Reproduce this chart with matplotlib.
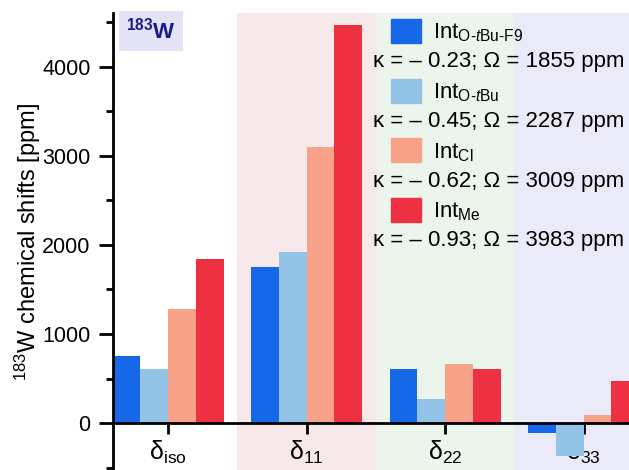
import matplotlib
matplotlib.use('Agg')
import matplotlib.pyplot as plt
import numpy as np
from matplotlib.patches import Rectangle
from matplotlib.ticker import MultipleLocator

plt.rcParams['font.family'] = ['Liberation Sans', 'DejaVu Sans']
plt.rcParams['mathtext.fontset'] = 'custom'
plt.rcParams['mathtext.rm'] = 'Liberation Sans'
plt.rcParams['mathtext.it'] = 'Liberation Sans:italic'
plt.rcParams['mathtext.bf'] = 'Liberation Sans:bold'

# dane
kategorie = ['\u03b4$_{\\mathrm{iso}}$', '\u03b4$_{\\mathrm{11}}$', '\u03b4$_{\\mathrm{22}}$', '\u03b4$_{\\mathrm{33}}$']
int_of9 = [755, 1755, 613, -108]
int_otbu = [610, 1925, 269, -370]
int_cl = [1286, 3098, 665, 90]
int_me = [1846, 4462, 613, 471]
serie = [int_of9, int_otbu, int_cl, int_me]
nazwy = [r'Int$_{\mathrm{O}\text{-}t\mathrm{Bu}\text{-}\mathrm{F9}}$', r'Int$_{\mathrm{O}\text{-}t\mathrm{Bu}}$',
         r'Int$_{\mathrm{Cl}}$', r'Int$_{\mathrm{Me}}$']
kappa = ['\u03ba = \u2013 0.23; \u03a9 = 1855 ppm', '\u03ba = \u2013 0.45; \u03a9 = 2287 ppm',
         '\u03ba = \u2013 0.62; \u03a9 = 3009 ppm', '\u03ba = \u2013 0.93; \u03a9 = 3983 ppm']
kolory = ['#1767e9', '#93c3e6', '#f9a28a', '#ee3142']
tla = ['#f7e9e9', '#ecf5ec', '#eaeaf8']

W, H = 629, 470
fig = plt.figure(figsize=(W / 100, H / 100), dpi=100)
ax = fig.add_axes([112.7 / W, 1 - (13 + 463.8) / H, 554 / W, 463.8 / H])

x = np.arange(1, len(kategorie) + 1)
szer = 0.2
ax.axvspan(1.5, 2.5, color=tla[0], zorder=0, lw=0)
ax.axvspan(2.5, 3.5, color=tla[1], zorder=0, lw=0)
ax.axvspan(3.5, 4.6, color=tla[2], zorder=0, lw=0)
for i, s in enumerate(serie):
    ax.bar(x + (i - 1.5) * szer, s, szer, color=kolory[i], zorder=2)

ax.set_xlim(0.6, 4.6)
ax.set_ylim(-600, 4600)
ax.spines['top'].set_visible(False)
ax.spines['right'].set_visible(False)
ax.spines['bottom'].set_position(('data', 0))
ax.spines['bottom'].set_zorder(3)
for sp in ['left', 'bottom']:
    ax.spines[sp].set_linewidth(2)
ax.set_xticks(x)
ax.set_xticklabels(kategorie, fontsize=18)
ax.yaxis.set_major_locator(MultipleLocator(1000))
ax.yaxis.set_minor_locator(MultipleLocator(500))
ax.tick_params(axis='y', which='major', length=10, width=2, labelsize=15.5, pad=6)
ax.tick_params(axis='y', which='minor', length=5, width=2)
ax.tick_params(axis='x', length=8, width=2, pad=3)
fig.text(28 / W, 1 - 242 / H, r'$^{183}$W chemical shifts [ppm]', fontsize=17, rotation=90,
         ha='center', va='center')

# etykieta 183W
fig.text(151 / W, 1 - 31 / H, r'$^{\mathbf{183}}$W', fontsize=16, fontweight='bold', color='#1b1b8c',
         ha='center', va='center',
         bbox=dict(boxstyle='square,pad=0.3', fc='#e3e3f5', ec='none'))

# legenda
for i in range(4):
    y0 = 19 + i * 59.7
    fig.add_artist(Rectangle((390.7 / W, 1 - (y0 + 24) / H), 30 / W, 24 / H, color=kolory[i],
                             transform=fig.transFigure))
    fig.text(433 / W, 1 - (y0 + 14) / H, nazwy[i], fontsize=16, ha='left', va='center')
    fig.text(373 / W, 1 - (y0 + 42.7) / H, kappa[i], fontsize=16, ha='left', va='center')

plt.savefig('out.png', dpi=100)
